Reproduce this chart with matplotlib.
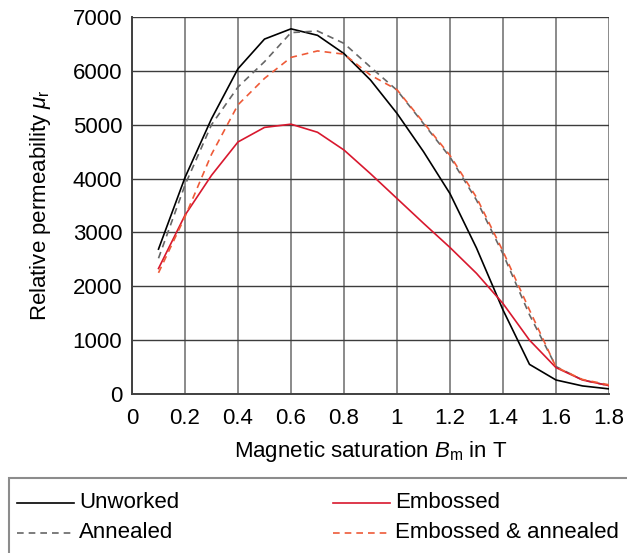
import numpy as np
import matplotlib.pyplot as plt
from matplotlib.lines import Line2D
from matplotlib.patches import Rectangle

plt.rcParams['font.family'] = ['Liberation Sans', 'DejaVu Sans']
plt.rcParams['mathtext.fontset'] = 'custom'
plt.rcParams['mathtext.rm'] = 'Liberation Sans'
plt.rcParams['mathtext.it'] = 'Liberation Sans:italic'

# Datos
b_m = [0.1, 0.2, 0.3, 0.4, 0.5, 0.6, 0.7, 0.8, 0.9, 1.0,
       1.1, 1.2, 1.3, 1.4, 1.5, 1.6, 1.7, 1.8]
unworked = [2690, 4020, 5110, 6040, 6590, 6780, 6660, 6320, 5830, 5210,
            4500, 3720, 2710, 1560, 550, 260, 150, 95]
annealed = [2520, 3880, 5000, 5700, 6170, 6710, 6740, 6510, 6070, 5640,
            5020, 4400, 3600, 2600, 1470, 510, 260, 155]
embossed = [2330, 3320, 4060, 4680, 4950, 5010, 4860, 4530, 4090, 3630,
            3170, 2720, 2240, 1680, 1000, 490, 260, 155]
emb_annealed = [2250, 3290, 4450, 5370, 5860, 6250, 6370, 6310, 5920, 5650,
                5040, 4430, 3650, 2650, 1560, 500, 270, 170]

x_ticks = [0, 0.2, 0.4, 0.6, 0.8, 1.0, 1.2, 1.4, 1.6, 1.8]
x_tick_labels = ['0', '0.2', '0.4', '0.6', '0.8', '1', '1.2', '1.4', '1.6', '1.8']
y_ticks = [0, 1000, 2000, 3000, 4000, 5000, 6000, 7000]

W, H = 627, 553
fig = plt.figure(figsize=(W / 100, H / 100), dpi=100)
ax = fig.add_axes([132 / W, 1 - 394 / H, (609 - 132) / W, (394 - 17) / H])

series = [
    (unworked, 'Unworked', dict(color='black', lw=1.2, ls='-')),
    (annealed, 'Annealed', dict(color='#666666', lw=1.2, ls=(0, (4, 3)))),
    (embossed, 'Embossed', dict(color='#d8182e', lw=1.2, ls='-')),
    (emb_annealed, 'Embossed & annealed', dict(color='#ee5a38', lw=1.2, ls=(0, (4, 3)))),
]
for vals, lab, st in series:
    ax.plot(b_m, vals, **st, zorder=3)

ax.set_xlim(0, 1.8)
ax.set_ylim(0, 7000)
ax.set_xticks(x_ticks)
ax.set_xticklabels(x_tick_labels)
ax.set_yticks(y_ticks)
ax.tick_params(length=0, labelsize=16)
ax.tick_params(axis='x', pad=10)
ax.tick_params(axis='y', pad=7)

ax.xaxis.grid(True, color='#8a8a8a', lw=1.4)
ax.yaxis.grid(True, color='#3c3c3c', lw=1.0)
ax.set_axisbelow(True)
for s in ['top', 'right']:
    ax.spines[s].set_visible(False)
for s in ['left', 'bottom']:
    ax.spines[s].set_color('#404040')
    ax.spines[s].set_linewidth(1.4)

ax.set_xlabel(r'Magnetic saturation $\mathit{B}_{\mathrm{m}}$ in T', fontsize=16, labelpad=7)
ax.set_ylabel(r'Relative permeability $\mathit{\mu}_{\mathrm{r}}$', fontsize=16, labelpad=14)

# Caja de la leyenda (sale por el borde derecho e inferior)
fig.add_artist(Rectangle((9 / W, -0.1), 1.2, 0.1 + 1 - 478 / H,
                         transform=fig.transFigure, fill=False,
                         edgecolor='#8c8c8c', lw=1.5))

leg_pos = [(17, 503), (17, 533), (333, 503), (333, 533)]
for (vals, lab, st), (px, py) in zip(series, leg_pos):
    yy = 1 - py / H
    fig.add_artist(Line2D([px / W, (px + 57) / W], [yy, yy],
                          transform=fig.transFigure, **st))
    fig.text((px + 62) / W, yy, lab, fontsize=16, va='center', ha='left')

fig.savefig('out.png', dpi=100)
